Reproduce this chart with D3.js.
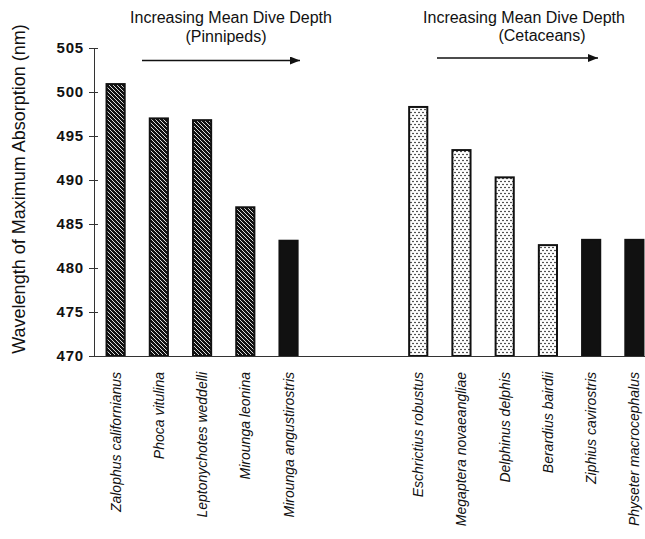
<!DOCTYPE html>
<html>
<head>
<script src="https://d3js.org/d3.v7.min.js"></script>
<style>
body { margin: 0; background: #fff; }
svg { font-family: Arial, "Liberation Sans", helvetica, sans-serif; }
</style>
</head>
<body>
<div class="viz"></div>
<script>
// pinnipeds, then cetaceans (nm)
var pinnipeds = ["Zalophus californianus", "Phoca vitulina", "Leptonychotes weddelli",
                 "Mirounga leonina", "Mirounga angustirostris"];
var pinnipedValues = [500.9, 497.0, 496.8, 486.9, 483.1];
var pinnipedFill = ["hatch", "hatch", "hatch", "hatch", "solid"];

var cetaceans = ["Eschrictius robustus", "Megaptera novaeangliae", "Delphinus delphis",
                 "Berardius bairdii", "Ziphius cavirostris", "Physeter macrocephalus"];
var cetaceanValues = [498.3, 493.4, 490.3, 482.6, 483.2, 483.2];
var cetaceanFill = ["dots", "dots", "dots", "dots", "solid", "solid"];

var gaps = ["gap1", "gap2"];
var yTicks = [470, 475, 480, 485, 490, 495, 500, 505];
var groupTitle = "Increasing Mean Dive Depth";
var groupNames = ["(Pinnipeds)", "(Cetaceans)"];
var yTitle = "Wavelength of Maximum Absorption (nm)";

var width = 645, height = 539;

var data = pinnipeds.map(function (d, i) {
  return { name: d, value: pinnipedValues[i], fill: pinnipedFill[i] };
}).concat(cetaceans.map(function (d, i) {
  return { name: d, value: cetaceanValues[i], fill: cetaceanFill[i] };
}));

var svg = d3.select(".viz").append("svg").attr("width", width).attr("height", height);

var defs = svg.append("defs");
var hatch = defs.append("pattern").attr("id", "hatch").attr("patternUnits", "userSpaceOnUse")
  .attr("width", 4).attr("height", 4);
hatch.append("rect").attr("width", 4).attr("height", 4).attr("fill", "#111");
hatch.append("path").attr("d", "M-1,-1 L5,5 M-1,3 L1,5 M3,-1 L5,1")
  .attr("stroke", "#fff").attr("stroke-width", 0.85);

var dots = defs.append("pattern").attr("id", "dots").attr("patternUnits", "userSpaceOnUse")
  .attr("width", 4).attr("height", 6);
dots.append("rect").attr("width", 4).attr("height", 6).attr("fill", "#fff");
dots.append("circle").attr("cx", 1).attr("cy", 1.5).attr("r", 0.8).attr("fill", "#111");
dots.append("circle").attr("cx", 3).attr("cy", 4.5).attr("r", 0.8).attr("fill", "#111");

var x = d3.scaleBand()
  .domain(pinnipeds.concat(gaps, cetaceans))
  .range([94, 656])
  .paddingInner(0.58)
  .paddingOuter(0.29);

var y = d3.scaleLinear().domain([470, 505]).range([356, 48]);

// bars
svg.selectAll(".bar").data(data).enter().append("rect")
  .attr("class", "bar")
  .attr("x", function (d) { return x(d.name); })
  .attr("y", function (d) { return y(d.value); })
  .attr("width", x.bandwidth())
  .attr("height", function (d) { return y(470) - y(d.value); })
  .attr("fill", function (d) { return d.fill == "solid" ? "#111" : "url(#" + d.fill + ")"; })
  .attr("stroke", "#111")
  .attr("stroke-width", 2);

// y axis, ticks crossing the line
var yAxis = svg.append("g").attr("transform", "translate(94,0)")
  .call(d3.axisLeft(y).tickValues(yTicks).tickSize(5).tickPadding(5).tickFormat(d3.format("d")));
yAxis.select(".domain").attr("stroke", "#333");
yAxis.selectAll(".tick line").attr("stroke", "#333");
yAxis.selectAll(".tick").append("line").attr("x2", 4).attr("stroke", "#333");
yAxis.selectAll(".tick text")
  .attr("fill", "#111")
  .style("font-size", "15px")
  .style("font-weight", "bold")
  .style("letter-spacing", "0.8px");

// x axis baseline and species labels
var xAxis = svg.append("g").attr("transform", "translate(0,356)")
  .call(d3.axisBottom(x).tickSize(0).tickFormat(""));
xAxis.select(".domain").attr("stroke", "#333");

svg.selectAll(".label").data(data).enter().append("text")
  .attr("class", "label")
  .attr("transform", function (d) {
    return "translate(" + (x(d.name) + x.bandwidth() / 2 + 5) + ",372) rotate(-90)";
  })
  .attr("text-anchor", "end")
  .style("font-size", "14px")
  .style("font-style", "italic")
  .attr("fill", "#111")
  .text(function (d) { return d.name; });

// y title
svg.append("text")
  .attr("transform", "translate(25,189) rotate(-90)")
  .attr("text-anchor", "middle")
  .style("font-size", "18px")
  .attr("fill", "#111")
  .text(yTitle);

// group headings with arrows
defs.append("marker").attr("id", "head").attr("viewBox", "0 0 10 8")
  .attr("refX", 10).attr("refY", 4).attr("markerWidth", 10).attr("markerHeight", 8)
  .attr("markerUnits", "userSpaceOnUse").attr("orient", "auto")
  .append("path").attr("d", "M0,0 L10,4 L0,8 Z").attr("fill", "#111");

var heads = [
  { line1: 231, line2: 226, y2: 42, a0: 142, a1: 300, ay: 60.5, name: groupNames[0] },
  { line1: 524, line2: 542, y2: 41, a0: 437, a1: 598, ay: 58, name: groupNames[1] }
];
heads.forEach(function (h) {
  svg.append("text").attr("x", h.line1).attr("y", 23).attr("text-anchor", "middle")
    .style("font-size", "16px").attr("fill", "#111").text(groupTitle);
  svg.append("text").attr("x", h.line2).attr("y", h.y2).attr("text-anchor", "middle")
    .style("font-size", "16px").attr("fill", "#111").text(h.name);
  svg.append("line").attr("x1", h.a0).attr("x2", h.a1).attr("y1", h.ay).attr("y2", h.ay)
    .attr("stroke", "#111").attr("stroke-width", 1.3).attr("marker-end", "url(#head)");
});
</script>
</body>
</html>
